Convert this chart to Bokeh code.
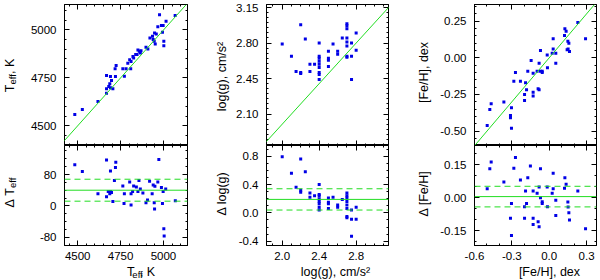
import math
from bokeh.plotting import figure
from bokeh.models import Range1d, LinearAxis, FixedTicker, Span, Slope
from bokeh.layouts import row, column
from bokeh.embed import file_html
from bokeh.resources import INLINE
from bokeh.core.properties import value

# ---------------- data ----------------
teff_x = [4977, 5068, 5015, 4967, 4988, 4998, 4994, 4948, 4958, 4936, 4921, 4940, 4946, 4952, 5002, 5002,
          4898, 4909, 4869, 4851, 4859, 4865, 4838, 4846, 4822, 4826, 4803, 4811, 4792, 4724, 4718, 4763,
          4782, 4809, 4772, 4668, 4691, 4720, 4697, 4687, 4681, 4691, 4668, 4705, 4668, 4618, 4527, 4483]
teff_y = [5080, 5075, 5045, 5017, 5023, 5023, 4988, 4984, 4979, 4967, 4958, 4950, 4941, 4927, 4941, 4918,
          4910, 4901, 4892, 4896, 4889, 4880, 4872, 4872, 4861, 4854, 4844, 4835, 4826, 4814, 4797, 4797,
          4797, 4797, 4759, 4762, 4757, 4757, 4736, 4719, 4705, 4698, 4693, 4693, 4670, 4627, 4585, 4559]
dteff_x = [4483, 4527, 4668, 4722, 4720, 4691, 4714, 4973, 4618, 4668, 4678, 4691, 4687, 4697, 4705,
           4772, 4763, 4803, 4811, 4820, 4826, 4842, 4851, 4857, 4865, 4880, 4898, 4907, 4919, 4934,
           4940, 4950, 4946, 4948, 4967, 4988, 4998, 4994, 5013, 5069, 5002, 5004, 4770, 4811]
dteff = [105, 88, 117, 111, 98, 89, 65, 118, 31, 23, 37, 37, 31, 34, 11,
         31, 51, 61, 31, 37, 51, 48, 37, 65, 43, 33, 8, 15, 63, 31,
         53, 50, 8, -8, 61, 47, 37, 6, 43, 13, -58, -77, 6, 2]
dteff_mean, dteff_sd = 40, 28

logg_x = [2.0, 2.1, 2.15, 2.2, 2.2, 2.2, 2.25, 2.3, 2.3, 2.35,
          2.4, 2.4, 2.4, 2.4, 2.4, 2.4, 2.4, 2.4, 2.4,
          2.5, 2.5, 2.5, 2.5, 2.55, 2.6, 2.6, 2.65,
          2.7, 2.7, 2.7, 2.7, 2.7, 2.7, 2.7, 2.7, 2.75, 2.75, 2.75, 2.8, 2.8]
logg_y = [2.79, 2.67, 2.52, 2.98, 2.51, 2.50, 2.84, 2.59, 2.52, 2.59,
          2.80, 2.67, 2.65, 2.62, 2.59, 2.56, 2.51, 2.49, 2.44,
          2.72, 2.65, 2.63, 2.57, 2.79, 2.72, 2.69, 2.85,
          2.99, 2.97, 2.94, 2.85, 2.81, 2.77, 2.67, 2.66, 2.80, 2.67, 2.44, 2.90, 2.73]
dlogg_x = [2.0, 2.1, 2.15, 2.2, 2.2, 2.2, 2.25, 2.3, 2.3, 2.35,
           2.4, 2.4, 2.4, 2.4, 2.4, 2.4, 2.4, 2.4,
           2.5, 2.5, 2.5, 2.5, 2.55, 2.6, 2.6, 2.65,
           2.7, 2.7, 2.7, 2.7, 2.7, 2.7, 2.7, 2.7, 2.75, 2.75, 2.75, 2.8, 2.8]
dlogg = [0.79, 0.56, 0.36, 0.76, 0.32, 0.29, 0.58, 0.28, 0.22, 0.24,
         0.40, 0.26, 0.24, 0.20, 0.16, 0.13, 0.08, 0.04,
         0.21, 0.15, 0.13, 0.06, 0.22, 0.11, 0.08, 0.19,
         0.28, 0.24, 0.21, 0.16, 0.11, 0.06, -0.05, -0.07, 0.04, -0.09, -0.33, 0.08, -0.09]
dlogg_mean, dlogg_sd = 0.19, 0.15

feh_x = [-0.498, -0.477, -0.466, -0.364, -0.311, -0.303, -0.303, -0.311, -0.284, -0.271,
         -0.231, -0.198, -0.198, -0.190, -0.182, -0.172, -0.145, -0.129, -0.129, -0.129,
         -0.097, -0.089, -0.081, -0.081, -0.070, -0.070, -0.056, -0.056, -0.016, -0.014,
         0.024, 0.032, 0.032, 0.053, 0.053, 0.126, 0.136, 0.123, 0.150, 0.158,
         0.144, 0.152, 0.163, 0.230, 0.292]
feh_y = [-0.461, -0.352, -0.314, -0.302, -0.393, -0.341, -0.480, -0.409, -0.159, -0.100,
         -0.159, -0.291, -0.250, -0.170, -0.218, -0.091, -0.018, -0.234, -0.261, -0.105,
         -0.091, -0.211, -0.218, -0.036, -0.091, 0.050, -0.091, -0.100, 0.020, -0.068,
         0.032, 0.130, 0.061, -0.036, 0.032, 0.198, 0.182, 0.152, 0.114, 0.100,
         0.055, 0.061, 0.043, 0.241, 0.130]
dfeh_x = [-0.498, -0.477, -0.466, -0.364, -0.311, -0.303, -0.303, -0.284, -0.271, -0.231,
          -0.198, -0.198, -0.190, -0.182, -0.172, -0.151, -0.129, -0.129, -0.129, -0.097,
          -0.089, -0.081, -0.081, -0.070, -0.070, -0.056, -0.056, -0.016, -0.014, 0.024,
          0.032, 0.032, 0.053, 0.053, 0.126, 0.136, 0.123, 0.150, 0.158, 0.163,
          0.230, 0.292, 0.152]
dfeh = [0.041, 0.132, 0.163, 0.072, -0.094, -0.027, -0.172, 0.134, 0.183, 0.081,
        -0.041, -0.094, 0.030, -0.027, 0.091, 0.145, -0.094, -0.122, 0.030, 0.020,
        -0.110, -0.132, 0.049, 0.132, 0.000, -0.018, -0.027, 0.049, -0.041, 0.020,
        0.111, 0.041, -0.081, -0.012, 0.091, 0.061, 0.043, -0.020, -0.069, -0.102,
        0.030, -0.142, -0.043]
dfeh_mean, dfeh_sd = 0.005, 0.047

# tick values and labels
teff_ticks = [4500, 4750, 5000]
teff_labels = ["4500", "4750", "5000"]
dteff_ticks = [-80, 0, 80]
dteff_labels = ["-80", "0", "80"]
logg_xticks = [2.0, 2.4, 2.8]
logg_xlabels = ["2.0", "2.4", "2.8"]
logg_yticks = [2.10, 2.45, 2.80, 3.15]
logg_ylabels = ["2.10", "2.45", "2.80", "3.15"]
dlogg_ticks = [-0.4, 0.0, 0.4, 0.8]
dlogg_labels = ["-0.4", "0.0", "0.4", "0.8"]
feh_xticks = [-0.6, -0.3, 0.0, 0.3]
feh_xlabels = ["-0.6", "-0.3", "0.0", "0.3"]
feh_yticks = [-0.50, -0.25, 0.00, 0.25]
feh_ylabels = ["-0.50", "-0.25", "0.00", "0.25"]
dfeh_ticks = [-0.15, 0.00, 0.15]
dfeh_labels = ["-0.15", "0.00", "0.15"]

FONT = "Liberation Sans"
TICK_FS = "11.5px"
TS = 12.5    # axis title size
SS = 9.5     # subscript size
SUB_DROP = 1.5
MID = 0.35   # distance baseline -> middle, in em
PT_COLOR = "#0000e6"
LN_COLOR = "#22dd22"


def minor(ticks, n):
    step = (ticks[1] - ticks[0]) / n
    return [ticks[0] + k * step for k in range(-3 * n, (len(ticks) + 3) * n)]


def add_hidden(p, side, ticks, nmin):
    a1 = LinearAxis(ticker=FixedTicker(ticks=[], minor_ticks=list(ticks)),
                    minor_tick_in=5, minor_tick_out=0, major_tick_in=0, major_tick_out=0,
                    minor_tick_line_color="black", axis_line_color="black",
                    major_label_standoff=0)
    a2 = LinearAxis(ticker=FixedTicker(ticks=[], minor_ticks=minor(ticks, nmin)),
                    minor_tick_in=2, minor_tick_out=0, major_tick_in=0, major_tick_out=0,
                    minor_tick_line_color="black", axis_line_color=None,
                    major_label_standoff=0)
    p.add_layout(a1, side)
    p.add_layout(a2, side)


def style_axis(ax, ticks, labels, nmin, standoff):
    ax.ticker = FixedTicker(ticks=ticks, minor_ticks=minor(ticks, nmin))
    ax.major_label_overrides = {t: l for t, l in zip(ticks, labels)}
    ax.major_tick_in = 5
    ax.major_tick_out = 0
    ax.minor_tick_in = 2
    ax.minor_tick_out = 0
    ax.axis_line_color = "black"
    ax.major_tick_line_color = "black"
    ax.minor_tick_line_color = "black"
    ax.major_label_text_font = FONT
    ax.major_label_text_font_size = TICK_FS
    ax.major_label_text_color = "black"
    ax.major_label_standoff = standoff


def panel(xr, yr, xt, xl, nx, yt, yl, ny, fw, fh, bl, br, bt, bb, show_x):
    p = figure(x_range=Range1d(*xr), y_range=Range1d(*yr), title=None,
               frame_width=fw, frame_height=fh,
               min_border_left=bl, min_border_right=br,
               min_border_top=bt, min_border_bottom=bb,
               x_axis_location="below" if show_x else None,
               output_backend="svg", toolbar_location=None)
    p.grid.visible = False
    p.outline_line_color = "black"
    p.background_fill_color = "white"
    p.border_fill_color = "white"
    if show_x:
        style_axis(p.xaxis[0], xt, xl, nx, 6)
    else:
        add_hidden(p, "below", xt, nx)
    style_axis(p.yaxis[0], yt, yl, ny, 8)
    add_hidden(p, "above", xt, nx)
    add_hidden(p, "right", yt, ny)
    return p


def strip(x0, y0, w, h):
    # a bare figure whose data units are the picture's pixels, for axis titles
    s = figure(width=w, height=h, x_range=Range1d(x0, x0 + w), y_range=Range1d(y0 + h, y0),
               title=None, min_border=0, min_border_left=0, min_border_right=0,
               min_border_top=0, min_border_bottom=0,
               x_axis_location=None, y_axis_location=None,
               output_backend="svg", toolbar_location=None)
    s.outline_line_color = None
    s.grid.visible = False
    s.border_fill_color = "white"
    return s


def txt(s, x, y, t, size, angle=0.0, align="left"):
    # (x, y) is the baseline point; texts are anchored at their middle
    if angle:
        x = x - MID * size
    else:
        y = y - MID * size
    s.text(x=[x], y=[y], text=[t], angle=angle, text_align=align, text_baseline="middle",
           text_font=value(FONT), text_font_size=value(f"{size}px"), text_color="black")


W_T = 0.611 * TS
W_SUB = 1.112 * SS
W_DELTA = (0.668 + 0.278) * TS
W_K = 1.223 * TS


def teff_vertical(s, x, y_center, delta=False):
    a = math.pi / 2
    if delta:
        total = W_DELTA + W_T + W_SUB
        y = y_center + total / 2
        txt(s, x, y, "\u0394", TS, a)
        y -= W_DELTA
        txt(s, x, y, "T", TS, a)
        txt(s, x + SUB_DROP, y - W_T, "eff", SS, a)
    else:
        total = W_T + W_SUB + W_K
        y = y_center + total / 2
        txt(s, x, y, "T", TS, a)
        txt(s, x + SUB_DROP, y - W_T, "eff", SS, a)
        txt(s, x, y - W_T - W_SUB, ", K", TS, a)


def teff_horizontal(s, x_center, y):
    total = W_T + W_SUB + W_K
    x = x_center - total / 2
    txt(s, x, y, "T", TS)
    txt(s, x + W_T, y + SUB_DROP, "eff", SS)
    txt(s, x + W_T + W_SUB, y, ", K", TS)


TH, BH, TOPB, BOTB = 141, 100, 4, 20
H_TOP = TOPB + TH
H_BOT = BH + BOTB
Y_STRIP = H_TOP + H_BOT
H_STRIP = 280 - Y_STRIP
Y_XTITLE = 276.2

# column 1
t1 = panel((4423, 5140), (4397, 5133), teff_ticks, teff_labels, 5, teff_ticks, teff_labels, 5,
           123, TH, 46, 3, TOPB, 0, False)
b1 = panel((4423, 5140), (-101, 154), teff_ticks, teff_labels, 5, dteff_ticks, dteff_labels, 4,
           123, BH, 46, 3, 0, BOTB, True)
# column 2
t2 = panel((1.83, 3.15), (1.79, 3.18), logg_xticks, logg_xlabels, 4, logg_yticks, logg_ylabels, 7,
           122, TH, 36, 3, TOPB, 0, False)
b2 = panel((1.83, 3.15), (-0.46, 0.95), logg_xticks, logg_xlabels, 4, dlogg_ticks, dlogg_labels, 4,
           122, BH, 36, 3, 0, BOTB, True)
# column 3
t3 = panel((-0.6, 0.38), (-0.598, 0.364), feh_xticks, feh_xlabels, 3, feh_yticks, feh_ylabels, 5,
           122, TH, 41, 3, TOPB, 0, False)
b3 = panel((-0.6, 0.38), (-0.218, 0.238), feh_xticks, feh_xlabels, 3, dfeh_ticks, dfeh_labels, 3,
           122, BH, 41, 3, 0, BOTB, True)

for p, xs, ys in [(t1, teff_x, teff_y), (t2, logg_x, logg_y), (t3, feh_x, feh_y)]:
    p.add_layout(Slope(gradient=1, y_intercept=0, line_color=LN_COLOR, line_width=1))
    p.scatter(xs, ys, marker="square", size=3, fill_color=PT_COLOR, line_color=None)

for p, xs, ys, m, sd in [(b1, dteff_x, dteff, dteff_mean, dteff_sd),
                         (b2, dlogg_x, dlogg, dlogg_mean, dlogg_sd),
                         (b3, dfeh_x, dfeh, dfeh_mean, dfeh_sd)]:
    p.add_layout(Span(location=m, dimension="width", line_color=LN_COLOR, line_width=1))
    p.add_layout(Span(location=m + sd, dimension="width", line_color=LN_COLOR, line_width=1,
                      line_dash="6 4"))
    p.add_layout(Span(location=m - sd, dimension="width", line_color=LN_COLOR, line_width=1,
                      line_dash="6 4"))
    p.scatter(xs, ys, marker="square", size=3, fill_color=PT_COLOR, line_color=None)

# title strips (left of each column, and below each column)
L1 = strip(0, 0, 18, 280)
L2 = strip(190, 0, 40, 280)
L3 = strip(391, 0, 42, 280)
X1 = strip(18, Y_STRIP, 172, H_STRIP)
X2 = strip(230, Y_STRIP, 161, H_STRIP)
X3 = strip(433, Y_STRIP, 166, H_STRIP)

teff_vertical(L1, 14, 75)
teff_vertical(L1, 14, 192, delta=True)
teff_horizontal(X1, 122, Y_XTITLE)

txt(L2, 226, 76, "log(g), cm/s\u00b2", TS, math.pi / 2, "center")
txt(L2, 226, 193, "\u0394 log(g)", TS, math.pi / 2, "center")
txt(X2, 321, Y_XTITLE, "log(g), cm/s\u00b2", TS, 0.0, "center")

txt(L3, 428, 72, "[Fe/H], dex", TS, math.pi / 2, "center")
txt(L3, 428, 193, "\u0394 [Fe/H]", TS, math.pi / 2, "center")
txt(X3, 535, Y_XTITLE, "[Fe/H], dex", TS, 0.0, "center")

root = row(L1, column(t1, b1, X1), L2, column(t2, b2, X2), L3, column(t3, b3, X3))

open("out.html", "w").write(file_html(root, INLINE))
